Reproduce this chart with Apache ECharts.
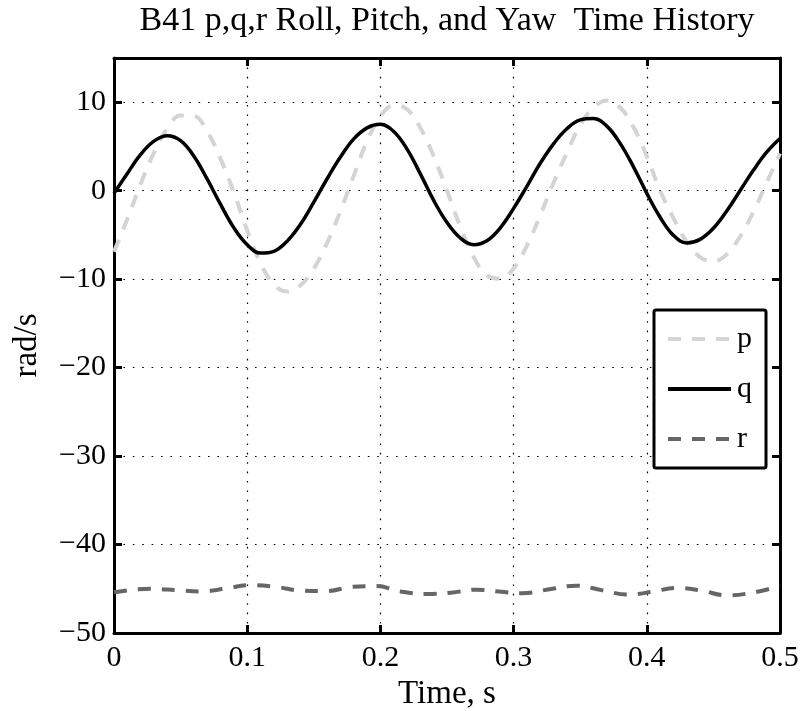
<!DOCTYPE html>
<html>
<head>
<meta charset="utf-8">
<script src="https://cdn.jsdelivr.net/npm/echarts@6/dist/echarts.min.js"></script>
<style>html,body{margin:0;padding:0;background:#fff;}#c{width:802px;height:711px;}</style>
</head>
<body>
<div id="c"></div>
<script>
// ---- data ----
var titleText = 'B41 p,q,r Roll, Pitch, and Yaw  Time History';
var xName = 'Time, s';
var yName = 'rad/s';
var seriesNames = ['p', 'q', 'r'];
var time = [0,0.01,0.02,0.03,0.04,0.05,0.06,0.07,0.08,0.09,0.10,0.11,0.12,0.13,0.14,0.15,0.16,0.17,0.18,0.19,0.20,0.21,0.22,0.23,0.24,0.25,0.26,0.27,0.28,0.29,0.30,0.31,0.32,0.33,0.34,0.35,0.36,0.37,0.38,0.39,0.40,0.41,0.42,0.43,0.44,0.45,0.46,0.47,0.48,0.49,0.50];
var pValues = [-6.9,-3.2,0.75,4.3,7.05,8.5,8.45,6.7,3.6,-0.2,-4.5,-8.2,-10.6,-11.4,-10.7,-8.8,-5.9,-2.3,1.7,5.6,8.4,9.65,9.2,7.1,3.9,0,-4.1,-7.5,-9.55,-9.95,-8.8,-6.2,-2.8,0.9,4.3,7.4,9.4,10.2,9.4,7.2,3.9,0,-3.1,-5.8,-7.5,-8.0,-7.2,-5.2,-2.4,0.9,4.2];
var qValues = [-0.3,1.95,4.1,5.6,6.2,5.65,3.9,1.3,-1.55,-4.2,-6.1,-7.05,-6.85,-5.7,-3.8,-1.3,1.35,3.8,5.85,7.1,7.5,6.7,4.7,1.9,-1.1,-3.6,-5.35,-6.1,-5.65,-4.2,-2.0,0.5,3.1,5.3,7.0,8.0,8.15,7.3,5.35,2.7,-0.3,-3.0,-5.05,-5.9,-5.5,-4.25,-2.3,0,2.3,4.35,5.9];
var rTime = [0,0.027,0.047,0.065,0.083,0.102,0.122,0.14,0.16,0.178,0.197,0.215,0.235,0.253,0.272,0.291,0.306,0.329,0.347,0.366,0.385,0.404,0.422,0.441,0.46,0.479,0.5];
var rValues = [-45.4,-45.0,-45.15,-45.3,-45.0,-44.6,-44.8,-45.2,-45.25,-44.8,-44.7,-45.3,-45.6,-45.45,-45.1,-45.35,-45.5,-45.0,-44.65,-45.15,-45.65,-45.35,-44.9,-45.2,-45.75,-45.45,-44.7];
var xTicks = {min: 0, max: 0.5, interval: 0.1};
var yTicks = {min: -50, max: 15, interval: 10};

function pairs(xs, ys) { return xs.map(function (x, i) { return [x, ys[i]]; }); }

var FONT = 'Liberation Serif';
var colors = {p: '#d4d4d4', q: '#000000', r: '#666666'};

var gridDot = {show: true, lineStyle: {color: '#000', width: 1.2, type: [1.6, 7.8]}};
function minusFmt(v) { return String(v).replace('-', '\u2212'); }

var chart = echarts.init(document.getElementById('c'), null, {renderer: 'canvas'});
chart.setOption({
  animation: false,
  backgroundColor: '#fff',
  title: {
    text: titleText,
    left: 447, top: 4, textAlign: 'center', padding: 0,
    textStyle: {fontFamily: FONT, fontSize: 34, fontWeight: 'normal', color: '#000'}
  },
  grid: {left: 114, right: 22, top: 58, bottom: 78, outerBoundsMode: 'none', containLabel: false},
  legend: {
    orient: 'vertical', left: 654, top: 310,
    padding: [14, 14, 14, 12],
    itemWidth: 63, itemHeight: 14, itemGap: 20,
    backgroundColor: '#fff', borderColor: '#000', borderWidth: 3, borderRadius: 2,
    itemStyle: {opacity: 0, borderWidth: 0},
    textStyle: {fontFamily: FONT, fontSize: 30, color: '#000', lineHeight: 28, padding: [0, 0, 0, 1]},
    data: [
      {name: 'p', lineStyle: {color: colors.p, width: 4, type: [13, 11]}},
      {name: 'q', lineStyle: {color: colors.q, width: 4, type: 'solid'}},
      {name: 'r', lineStyle: {color: colors.r, width: 4, type: [13, 11]}}
    ]
  },
  xAxis: [
    {
      type: 'value', position: 'bottom', min: xTicks.min, max: xTicks.max, interval: xTicks.interval,
      name: xName, nameLocation: 'middle', nameGap: 29,
      nameTextStyle: {fontFamily: FONT, fontSize: 33, color: '#000'},
      axisLine: {show: true, onZero: false, lineStyle: {color: '#000', width: 3}},
      axisTick: {show: true, inside: true, length: 8, lineStyle: {color: '#000', width: 3}},
      axisLabel: {fontFamily: FONT, fontSize: 30, color: '#000', margin: 10},
      splitLine: gridDot
    },
    {
      type: 'value', position: 'top', min: xTicks.min, max: xTicks.max, interval: xTicks.interval,
      axisLine: {show: true, onZero: false, lineStyle: {color: '#000', width: 3}},
      axisTick: {show: true, inside: true, length: 8, lineStyle: {color: '#000', width: 3}},
      axisLabel: {show: false}, splitLine: {show: false}
    }
  ],
  yAxis: [
    {
      type: 'value', position: 'left', min: yTicks.min, max: yTicks.max, interval: yTicks.interval,
      name: yName, nameLocation: 'middle', nameGap: 70,
      nameTextStyle: {fontFamily: FONT, fontSize: 33, color: '#000'},
      axisLine: {show: true, onZero: false, lineStyle: {color: '#000', width: 3}},
      axisTick: {show: true, inside: true, length: 8, lineStyle: {color: '#000', width: 3}},
      axisLabel: {fontFamily: FONT, fontSize: 30, color: '#000', margin: 8, formatter: minusFmt,
        showMaxLabel: false},
      splitLine: gridDot
    },
    {
      type: 'value', position: 'right', min: yTicks.min, max: yTicks.max, interval: yTicks.interval,
      axisLine: {show: true, onZero: false, lineStyle: {color: '#000', width: 3}},
      axisTick: {show: true, inside: true, length: 8, lineStyle: {color: '#000', width: 3}},
      axisLabel: {show: false}, splitLine: {show: false}
    }
  ],
  series: [
    {name: seriesNames[0], type: 'line', data: pairs(time, pValues), smooth: 0.4, symbol: 'none', z: 3,
      lineStyle: {color: colors.p, width: 4, type: [13, 11]}, itemStyle: {color: colors.p}},
    {name: seriesNames[1], type: 'line', data: pairs(time, qValues), smooth: 0.4, symbol: 'none', z: 4,
      lineStyle: {color: colors.q, width: 3.5, type: 'solid'}, itemStyle: {color: colors.q}},
    {name: seriesNames[2], type: 'line', data: pairs(rTime, rValues), smooth: 0.4, symbol: 'none', z: 3,
      lineStyle: {color: colors.r, width: 4, type: [13, 11]}, itemStyle: {color: colors.r}}
  ]
});
</script>
</body>
</html>
